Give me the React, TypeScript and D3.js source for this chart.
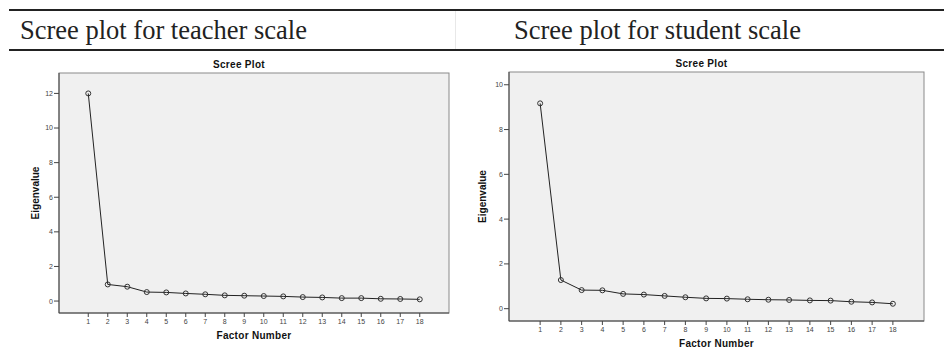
import React from "react";
import * as d3 from "d3";

// eigenvalues
const factors = [1, 2, 3, 4, 5, 6, 7, 8, 9, 10, 11, 12, 13, 14, 15, 16, 17, 18];
const teacherEigen = [12.0, 0.96, 0.83, 0.52, 0.5, 0.44, 0.39, 0.33, 0.31, 0.29, 0.27, 0.23, 0.21, 0.17, 0.17, 0.13, 0.12, 0.1];
const studentEigen = [9.17, 1.28, 0.83, 0.82, 0.66, 0.63, 0.57, 0.51, 0.46, 0.45, 0.42, 0.4, 0.39, 0.37, 0.36, 0.31, 0.28, 0.22];
const teacherTicks = [0, 2, 4, 6, 8, 10, 12];
const studentTicks = [0, 2, 4, 6, 8, 10];
const headings = ["Scree plot for teacher scale", "Scree plot for student scale"];

type PlotProps = {
  x0: number; x1: number; y0: number; y1: number;
  yDomain: [number, number];
  yTicks: number[];
  values: number[];
  eigenX: number;
};

const sans = "Arial, 'Liberation Sans', sans-serif";

const ScreePlot = ({ x0, x1, y0, y1, yDomain, yTicks, values, eigenX }: PlotProps) => {
  const xScale = d3.scaleLinear().domain([-0.5, 19.5]).range([x0, x1]);
  const yScale = d3.scaleLinear().domain(yDomain).range([y1, y0]);
  const pts: [number, number][] = factors.map((f, i) => [xScale(f), yScale(values[i])]);
  const myLine = d3.line();
  const midX = (x0 + x1) / 2;
  const midY = (y0 + y1) / 2;

  return (
    <g>
      <rect x={x0} y={y0} width={x1 - x0} height={y1 - y0} fill="#f0f0f0" stroke="#8a8a8a" strokeWidth={1} />
      <line x1={x0} x2={x0} y1={y0} y2={y1} stroke="#444" />
      <line x1={x0} x2={x1} y1={y1} y2={y1} stroke="#444" />
      {yTicks.map(t => (
        <g key={"y" + t}>
          <line x1={x0 - 5} x2={x0} y1={yScale(t)} y2={yScale(t)} stroke="#444" />
          <text x={x0 - 6} y={yScale(t)} dy="0.35em" textAnchor="end" fontSize={7} fill="#444" fontFamily={sans}>{t}</text>
        </g>
      ))}
      {factors.map(f => (
        <g key={"x" + f}>
          <line x1={xScale(f)} x2={xScale(f)} y1={y1} y2={y1 + 4} stroke="#444" />
          <text x={xScale(f)} y={y1 + 9} dy="0.35em" textAnchor="middle" fontSize={7} fill="#444" fontFamily={sans}>{f}</text>
        </g>
      ))}
      <path d={myLine(pts) || ""} fill="none" stroke="#222" strokeWidth={1} />
      {pts.map((p, i) => (
        <circle key={i} cx={p[0]} cy={p[1]} r={2.5} fill="none" stroke="#333" strokeWidth={1} />
      ))}
      <text x={midX - 15} y={y0 - 5} textAnchor="middle" fontSize={10} fontWeight="bold" fill="#111" fontFamily={sans} letterSpacing={0.3}>Scree Plot</text>
      <text x={midX} y={y1 + 22} dy="0.35em" textAnchor="middle" fontSize={10} fontWeight="bold" fill="#111" fontFamily={sans} letterSpacing={0.3}>Factor Number</text>
      <text transform={`translate(${eigenX},${midY}) rotate(-90)`} dy="0.35em" textAnchor="middle" fontSize={10} fontWeight="bold" fill="#111" fontFamily={sans}>Eigenvalue</text>
    </g>
  );
};

const App = () => {
  return (
    <svg width={944} height={357} style={{ position: "absolute", left: 0, top: 0, background: "#fff" }}>
      <line x1={9} x2={944} y1={10} y2={10} stroke="#222" strokeWidth={2} />
      <line x1={9} x2={944} y1={50} y2={50} stroke="#222" strokeWidth={2} />
      <line x1={455.5} x2={455.5} y1={11} y2={49} stroke="#e8e8e8" strokeWidth={1} />
      <text x={20} y={39} fontSize={26.5} fill="#222" fontFamily="'Liberation Serif', 'Times New Roman', serif">{headings[0]}</text>
      <text x={514} y={39} fontSize={26.5} fill="#222" fontFamily="'Liberation Serif', 'Times New Roman', serif">{headings[1]}</text>
      <ScreePlot x0={59} x1={449} y0={73} y1={313} yDomain={[-0.69, 13.18]} yTicks={teacherTicks} values={teacherEigen} eigenX={35} />
      <ScreePlot x0={509} x1={924} y0={72} y1={321} yDomain={[-0.55, 10.57]} yTicks={studentTicks} values={studentEigen} eigenX={482} />
    </svg>
  );
};

export default App;
